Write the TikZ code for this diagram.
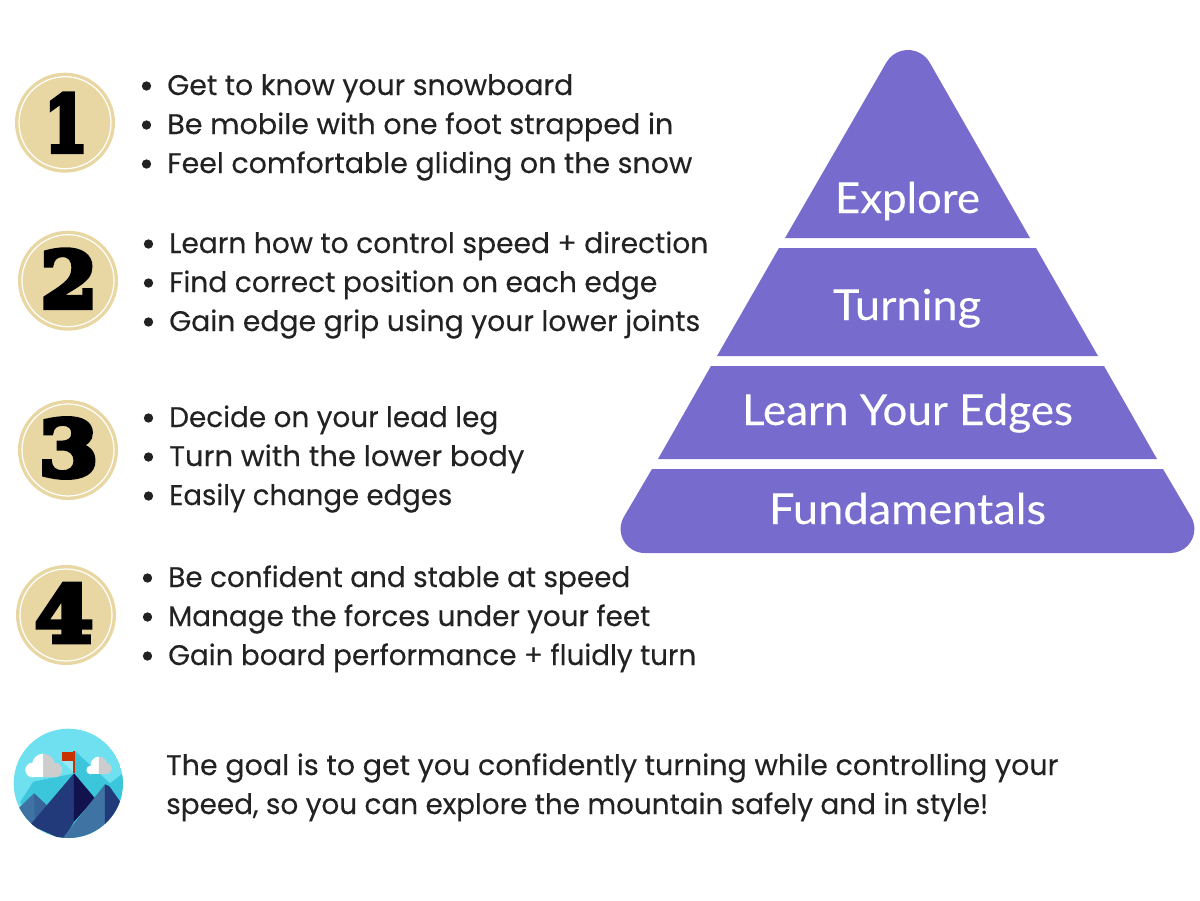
\documentclass[tikz,border=0pt]{standalone}
\usepackage{graphicx}
\usepackage{fontspec}
\setmainfont[FakeBold=0.25]{Poppins}
\newfontfamily\pyrfont[FakeStretch=1.05,FakeBold=0.15]{Lato}
\newfontfamily\digitfont[FakeBold=7,FakeStretch=1.22]{DejaVu Serif Bold}
\definecolor{ink}{HTML}{222222}
\definecolor{sand}{HTML}{E9D7A3}
\definecolor{pyr}{HTML}{786BCE}
\definecolor{sky}{HTML}{6FE0F0}
\definecolor{teal}{HTML}{3CC6DB}
\definecolor{navy}{HTML}{233A7A}
\definecolor{deep}{HTML}{12124F}
\definecolor{steel}{HTML}{3E73A4}
\definecolor{flagred}{HTML}{C83200}
\definecolor{cloudgrey}{HTML}{CDCDCD}
\tikzset{
 x=0.75pt,y=-0.75pt,
 item/.style={anchor=base west,inner sep=0pt,text=ink,font=\fontsize{21.25pt}{24pt}\selectfont},
 dotb/.style={circle,fill=ink,inner sep=0pt,minimum size=7pt},
 badge/.style={circle,fill=sand,inner sep=0pt,minimum size=75pt},
 ring/.style={circle,draw=white,line width=0.9pt,inner sep=0pt,minimum size=69pt},
 digit/.style={anchor=center,inner sep=0pt,text=black,font=\digitfont\fontsize{58pt}{60pt}\selectfont},
 tier/.style={fill=pyr},
 tierlabel/.style={anchor=base,inner sep=0pt,text=white,font=\pyrfont\fontsize{32pt}{36pt}\selectfont}
}
\begin{document}
\begin{tikzpicture}
\fill[white] (0,0) rectangle (1200,900);
\useasboundingbox (0,0) rectangle (1200,900);
% badges
\foreach \n/\cx/\cy/\dx/\dy/\dw in {1/65/122.7/1/0/33,2/68/280.7/1/-2/43,3/68/450/0.5/-2/45,4/66/615/-2/-2/44}{
 \node[badge] (badge\n) at (\cx,\cy) {};
 \node[ring] (ring\n) at (\cx,\cy) {};
 \node[digit] (num\n) at (\cx+\dx,\cy+\dy) {\resizebox{\dw pt}{\height}{\n}};
}
% bullet lists
\foreach \i/\xb/\xt/\yy/\w/\t in {
 a/146.5/167/95/304.5/Get to know your snowboard,
 b/146.5/167/134/379.5/Be mobile with one foot strapped in,
 c/146.5/167/173/393.75/Feel comfortable gliding on the snow,
 d/148.5/169/253/404.25/Learn how to control speed + direction,
 e/148.5/169/292/366/Find correct position on each edge,
 f/148.5/169/331/398.25/Gain edge grip using your lower joints,
 g/148.5/169/427/246.75/Decide on your lead leg,
 h/148.5/169/466/266.25/Turn with the lower body,
 i/148.5/169/505/212.25/Easily change edges,
 j/147.5/168/587/346.5/Be confident and stable at speed,
 k/147.5/168/626/361.5/Manage the forces under your feet,
 l/147.5/168/665/396/Gain board performance + fluidly turn}{
 \node[dotb] (dot\i) at (\xb,\yy-9) {};
 \node[item] (line\i) at (\xt,\yy) {\resizebox{\w pt}{\height}{\t}};
}
\node[item] (goala) at (166,775) {\resizebox{669pt}{\height}{The goal is to get you confidently turning while controlling your}};
\node[item] (goalb) at (166,814) {\resizebox{616.5pt}{\height}{speed, so you can explore the mountain safely and in style!}};
% pyramid
\fill[tier] (785,238) -- (886.35,62.5) arc[start angle=-150,end angle=-30,radius=25] -- (1030,238) -- cycle;
\fill[tier] (779,248) -- (1036,248) -- (1098,356) -- (717,356) -- cycle;
\fill[tier] (711,366) -- (1104,366) -- (1157,459) -- (658,459) -- cycle;
\fill[tier] (652,469) -- (623.8,517) arc[start angle=-150,end angle=-270,radius=24] -- (1170.4,553) arc[start angle=-270,end angle=-390,radius=24] -- (1163,469) -- cycle;
\node[tierlabel] (explore) at (907.5,213) {\resizebox{108.75pt}{\height}{Explore}};
\node[tierlabel] (turning) at (907,320) {\resizebox{111pt}{\height}{Turning}};
\node[tierlabel] (edges) at (907.5,425) {\resizebox{248.25pt}{\height}{Learn Your Edges}};
\node[tierlabel] (fund) at (907.5,524) {\resizebox{207.75pt}{\height}{Fundamentals}};
% mountain icon
\begin{scope}[shift={(0,715)},scale=1/3]
 \clip (205,205) circle[radius=164];
 \fill[sky] (205,205) circle[radius=164];
 \fill[teal] (225,108) -- (330,205) -- (375,170) -- (375,375) -- (180,375) -- (60,262) -- (100,200) -- (150,190) -- (225,175) -- cycle;
 \fill[sky!70!white] (185,138) -- (222,138) -- (222,172) -- cycle;
 % left peak
 \fill[steel] (102,235) -- (40,295) -- (110,345) -- (150,280) -- cycle;
 \fill[steel!75!navy] (102,235) -- (150,280) -- (105,330) -- cycle;
 % centre peak
 \fill[navy] (222,175) -- (90,330) -- (190,375) -- (222,320) -- cycle;
 \fill[deep] (222,175) -- (285,250) -- (222,320) -- cycle;
 % right peak
 \fill[steel] (315,208) -- (186,372) -- (300,375) -- (315,330) -- cycle;
 \fill[navy] (315,208) .. controls (325,208) and (330,215) .. (338,228) -- (375,280) -- (300,375) -- (315,330) -- cycle;
 % flag
 \fill[flagred] (185,110) rectangle (220,138);
 \fill[flagred] (220,107) rectangle (226,175);
 % left cloud
 \begin{scope}
  \clip (60,100) rectangle (130,187);
  \fill[white] (130,150) circle[radius=34];
  \fill[white] (98,165) circle[radius=22];
  \fill[white] (98,165) rectangle (165,187);
 \end{scope}
 \begin{scope}
  \clip (130,100) rectangle (200,187);
  \fill[cloudgrey] (130,150) circle[radius=34];
  \fill[cloudgrey] (165,165) circle[radius=22];
  \fill[cloudgrey] (98,165) rectangle (165,187);
 \end{scope}
 % right cloud
 \begin{scope}
  \clip (250,110) rectangle (297,177);
  \fill[white] (297,150) circle[radius=25];
  \fill[white] (272,165) circle[radius=13];
  \fill[white] (272,165) rectangle (320,178);
 \end{scope}
 \begin{scope}
  \clip (297,110) rectangle (345,177);
  \fill[cloudgrey] (297,150) circle[radius=25];
  \fill[cloudgrey] (320,161) circle[radius=16];
  \fill[cloudgrey] (272,165) rectangle (320,178);
 \end{scope}
\end{scope}
\end{tikzpicture}
\end{document}
